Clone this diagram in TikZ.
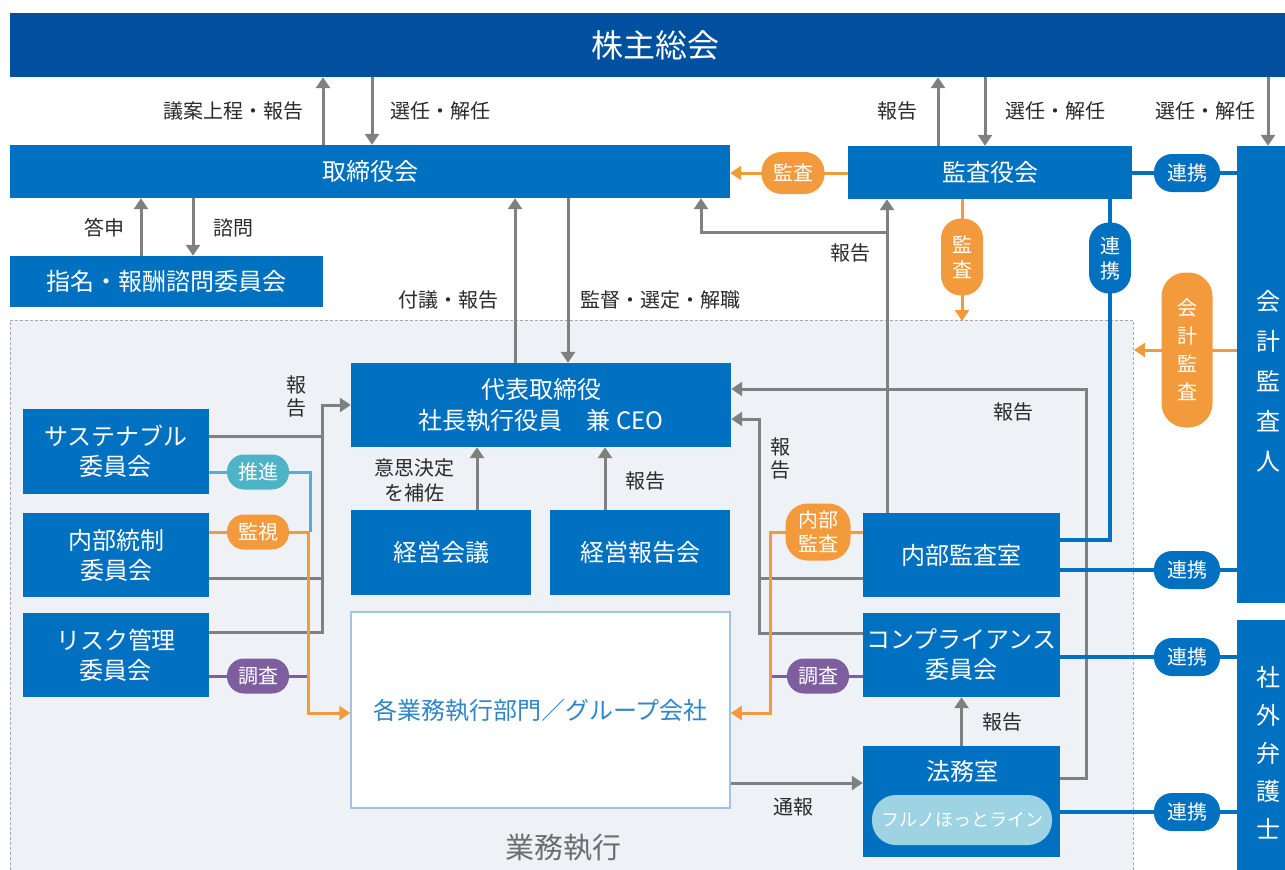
\documentclass[tikz,border=0pt]{standalone}
\usepackage{fontspec}
\setmainfont{Noto Sans CJK JP}
\usetikzlibrary{arrows.meta}
\definecolor{kabuc}{HTML}{0050A0}
\definecolor{fb}{HTML}{0070C0}
\definecolor{ag}{HTML}{808080}
\definecolor{og}{HTML}{F39A3D}
\definecolor{tl}{HTML}{4FB3C6}
\definecolor{pu}{HTML}{7D5FA0}
\definecolor{lb}{HTML}{9DD3E3}
\definecolor{rg}{HTML}{EEF1F5}
\definecolor{tx}{HTML}{2A2A2A}
\definecolor{gb}{HTML}{9DC3E6}
\definecolor{gt}{HTML}{2E86CC}
\pgfdeclarelayer{bg}
\pgfdeclarelayer{ln}
\pgfsetlayers{bg,ln,main}
\begin{document}
\begin{tikzpicture}[x=1pt,y=-1pt,
  box/.style={rectangle, fill=fb, text=white, inner sep=0pt, align=center, font=\fontsize{24}{30}\selectfont},
  lbl/.style={text=tx, inner sep=0pt, align=center, font=\fontsize{20}{24}\selectfont},
  pill/.style={rectangle, rounded corners=17pt, inner sep=0pt, text=white, align=center, minimum width=62pt, minimum height=35pt, font=\fontsize{20}{24}\selectfont},
  gline/.style={draw=ag, line width=3pt},
  garrow/.style={gline, -{Triangle[width=14pt,length=11pt]}},
  oline/.style={draw=og, line width=3pt},
  oarrow/.style={oline, -{Triangle[width=14pt,length=11pt]}},
  tline/.style={draw=tl, line width=3pt},
  pline/.style={draw=pu, line width=3pt},
  bline/.style={draw=fb, line width=4pt}
]
\useasboundingbox (0,0) rectangle (1285,870);
\begin{pgfonlayer}{bg}
\fill[white] (0,0) rectangle (1285,870);
\fill[rg] (10,320) rectangle (1133,890);
\draw[ag!70, line width=1pt, dash pattern=on 3pt off 2pt] (10,890) -- (10,320) -- (1133,320) -- (1133,890);
\end{pgfonlayer}

% boxes
\node[box, fill=kabuc, minimum width=1290pt, minimum height=64pt, font=\fontsize{32}{36}\selectfont] (kabu) at (655,45) {株主総会};
\node[box, minimum width=720pt, minimum height=53pt] (tori) at (370,171.5) {取締役会};
\node[box, minimum width=284pt, minimum height=53pt] (kyk) at (990,172.5) {監査役会};
\node[box, minimum width=62pt, minimum height=457pt] (kaikei) at (1268,374.5) {};
\node[text=white, inner sep=0pt, align=center, font=\fontsize{24}{40}\selectfont] (kaikeit) at (1268,381) {会\\計\\監\\査\\人};
\node[box, minimum width=313pt, minimum height=51pt] (shimei) at (166.5,281.5) {指名・報酬諮問委員会};
\node[box, minimum width=380pt, minimum height=84pt, font=\fontsize{24}{31}\selectfont] (daihyo) at (541,405) {代表取締役\\社長執行役員　兼 CEO};
\node[box, minimum width=186pt, minimum height=85pt] (sus) at (116,451.5) {サステナブル\\委員会};
\node[box, minimum width=186pt, minimum height=84pt] (ntousei) at (116,555) {内部統制\\委員会};
\node[box, minimum width=186pt, minimum height=84pt] (risk) at (116,655) {リスク管理\\委員会};
\node[box, minimum width=180pt, minimum height=85pt] (kaigi) at (441,552.5) {経営会議};
\node[box, minimum width=180pt, minimum height=85pt] (hokoku) at (640,552.5) {経営報告会};
\node[box, fill=white, draw=gb, line width=1.5pt, text=gt, minimum width=379pt, minimum height=196pt] (gyomu) at (540.5,710) {各業務執行部門／グループ会社};
\node[box, minimum width=197pt, minimum height=84pt] (naibu) at (961.5,555) {内部監査室};
\node[box, minimum width=197pt, minimum height=84pt] (comp) at (961.5,655) {コンプライアンス\\委員会};
\node[box, minimum width=197pt, minimum height=111pt] (homu) at (961.5,801.5) {};
\node[text=white, inner sep=0pt, font=\fontsize{24}{30}\selectfont] (homut) at (962,771) {法務室};
\node[pill, fill=lb, minimum width=180pt, minimum height=50pt, rounded corners=24pt, font=\fontsize{18}{22}\selectfont] (hot) at (962,820) {フルノほっとライン};
\node[box, minimum width=62pt, minimum height=265pt, font=\fontsize{24}{38}\selectfont] (shagai) at (1268,752.5) {社\\外\\弁\\護\\士};

% pills
\node[pill, fill=og, minimum width=63pt, minimum height=42pt, rounded corners=20pt] (p1) at (793,173) {監査};
\node[pill, fill=og, minimum width=42pt, minimum height=77pt, rounded corners=20pt, font=\fontsize{20}{25}\selectfont] (p2) at (962,257) {監\\査};
\node[pill, fill=fb, minimum width=66pt, minimum height=38pt, rounded corners=18pt] (p3) at (1187,173) {連携};
\node[pill, fill=fb, minimum width=42pt, minimum height=71pt, rounded corners=20pt, font=\fontsize{20}{25}\selectfont] (p4) at (1110,258) {連\\携};
\node[pill, fill=og, minimum width=51pt, minimum height=155pt, rounded corners=24pt, font=\fontsize{20}{28}\selectfont] (p5) at (1187,350) {会\\計\\監\\査};
\node[pill, fill=tl] (p6) at (258,472) {推進};
\node[pill, fill=og] (p7) at (258,532) {監視};
\node[pill, fill=pu] (p8) at (258,676) {調査};
\node[pill, fill=og, minimum width=65pt, minimum height=57pt, rounded corners=22pt, font=\fontsize{20}{24}\selectfont] (p9) at (818,532) {内部\\監査};
\node[pill, fill=pu] (p10) at (818,676) {調査};
\node[pill, fill=fb, minimum width=66pt, minimum height=38pt, rounded corners=18pt] (p11) at (1187,570) {連携};
\node[pill, fill=fb, minimum width=66pt, minimum height=38pt, rounded corners=18pt] (p12) at (1187,657) {連携};
\node[pill, fill=fb, minimum width=66pt, minimum height=38pt, rounded corners=18pt] (p13) at (1187,812) {連携};

% labels
\node[lbl] (l1) at (233,111) {議案上程・報告};
\node[lbl] (l2) at (440,111) {選任・解任};
\node[lbl] (l3) at (897,111) {報告};
\node[lbl] (l4) at (1055,111) {選任・解任};
\node[lbl] (l5) at (1205,111) {選任・解任};
\node[lbl] (l6) at (104,228) {答申};
\node[lbl] (l7) at (233,228) {諮問};
\node[lbl] (l8) at (448,300) {付議・報告};
\node[lbl] (l9) at (660,300) {監督・選定・解職};
\node[lbl] (l10) at (850,253) {報告};
\node[lbl, font=\fontsize{20}{23}\selectfont] (l11) at (296,396) {報\\告};
\node[lbl, font=\fontsize{20}{25}\selectfont] (l12) at (414,480) {意思決定\\を補佐};
\node[lbl] (l13) at (645,481) {報告};
\node[lbl, font=\fontsize{20}{23}\selectfont] (l14) at (780,458) {報\\告};
\node[lbl] (l15) at (1013,412) {報告};
\node[lbl] (l16) at (1002,722) {報告};
\node[lbl] (l17) at (793,807) {通報};
\node[text=ag!85!black, inner sep=0pt, font=\fontsize{29}{32}\selectfont] (l18) at (563,848) {業務執行};

\coordinate (j1) at (887,232);
\coordinate (o2end) at (962,321);
\coordinate (o3end) at (1134,350);

\begin{pgfonlayer}{ln}
% gray
\draw[garrow] (tori.north -| 323,0) -- (kabu.south -| 323,0);
\draw[garrow] (kabu.south -| 372,0) -- (tori.north -| 372,0);
\draw[garrow] (kyk.north -| 938,0) -- (kabu.south -| 938,0);
\draw[garrow] (kabu.south -| 985,0) -- (kyk.north -| 985,0);
\draw[garrow] (kabu.south -| kaikei.center) -- (kaikei.north);
\draw[garrow] (shimei.north -| 141,0) -- (tori.south -| 141,0);
\draw[garrow] (tori.south -| 193,0) -- (shimei.north -| 193,0);
\draw[garrow] (daihyo.north -| 515,0) -- (tori.south -| 515,0);
\draw[garrow] (tori.south -| 568,0) -- (daihyo.north -| 568,0);
\draw[garrow] (naibu.north -| 887,0) -- (kyk.south -| 887,0);
\draw[garrow] (j1) -| (tori.south -| 701,0);
\draw[garrow] (risk.east |- 0,632) -| (322,405) -- (daihyo.west);
\draw[gline] (sus.east |- 0,436) -- (322,436);
\draw[gline] (ntousei.east |- 0,578) -- (322,578);
\draw[garrow] (kaigi.north -| 477,0) -- (daihyo.south -| 477,0);
\draw[garrow] (hokoku.north -| 605,0) -- (daihyo.south -| 605,0);
\draw[garrow] (homu.east |- 0,778) -| (1086,389) -- (daihyo.east |- 0,389);
\draw[garrow] (comp.west |- 0,633) -| (759,419) -- (daihyo.east |- 0,419);
\draw[gline] (naibu.west |- 0,578) -- (759,578);
\draw[garrow] (gyomu.east |- 0,783) -- (homu.west |- 0,783);
\draw[garrow] (homu.north) -- (comp.south);
% teal / purple
\draw[tline] (sus.east |- 0,472) -| (310,532);
\draw[pline] (risk.east |- 0,676) -- (310,676);
\draw[pline] (comp.west |- 0,676) -- (770,676);
% orange
\draw[oarrow] (kyk.west |- 0,173) -- (tori.east |- 0,173);
\draw[oarrow] (kyk.south -| o2end) -- (o2end);
\draw[oarrow] (kaikei.west |- o3end) -- (o3end);
\draw[oarrow] (ntousei.east |- 0,532) -| (308,713) -- (gyomu.west |- 0,713);
\draw[oarrow] (naibu.west |- 0,532) -| (770,713) -- (gyomu.east |- 0,713);
% blue
\draw[bline] (kyk.east |- 0,173) -- (kaikei.west |- 0,173);
\draw[bline] (kyk.south -| 1110,0) |- (naibu.east |- 0,540);
\draw[bline] (naibu.east |- 0,570) -- (kaikei.west |- 0,570);
\draw[bline] (comp.east |- 0,657) -- (shagai.west |- 0,657);
\draw[bline] (homu.east |- 0,812) -- (shagai.west |- 0,812);
\end{pgfonlayer}
\end{tikzpicture}
\end{document}
